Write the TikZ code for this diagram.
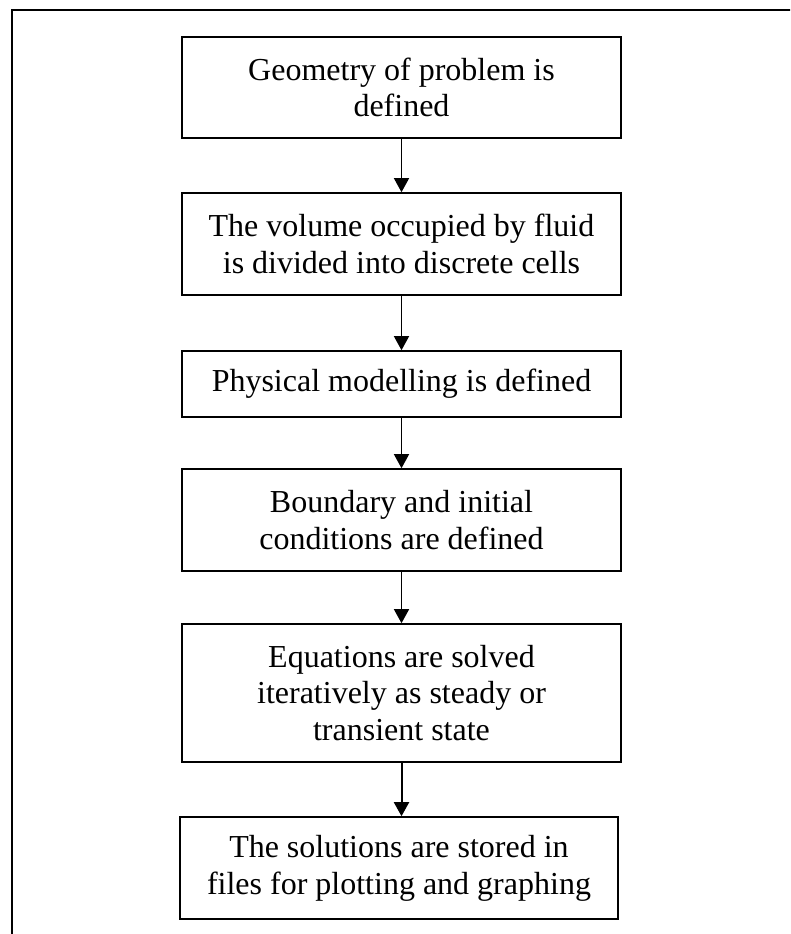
\documentclass[tikz,border=0pt]{standalone}
\usepackage{fontspec}
\setmainfont{Liberation Serif}
\usetikzlibrary{arrows.meta}

\tikzset{
  stepbox/.style={draw=black, line width=1.6pt, align=center, inner sep=0pt,
    font=\fontsize{32}{36.7}\selectfont, minimum width=439pt},
  flow/.style={line width=1.4pt, -{Triangle[length=14pt,width=15pt]}},
  frame/.style={draw=black, line width=1.8pt}
}

\begin{document}
\begin{tikzpicture}[x=1pt,y=1pt]
  \useasboundingbox (0,0) rectangle (790,-934);
  \clip (0,0) rectangle (790,-934);

  % outer frame (runs past the right and bottom edges)
  \draw[frame] (12,-10) rectangle (800,-950);

  % process steps
  \node[stepbox, minimum height=101pt] (geo) at (401.5,-87.5)
    {Geometry of problem is\\defined};
  \node[stepbox, minimum height=102pt] (mesh) at (401.5,-244)
    {The volume occupied by fluid\\is divided into discrete cells};
  \node[stepbox, minimum height=66pt] (phys) at (401.5,-384)
    {Physical modelling is defined};
  \node[stepbox, minimum height=102pt] (bc) at (401.5,-520)
    {Boundary and initial\\conditions are defined};
  \node[stepbox, minimum height=138pt] (solve) at (401.5,-693)
    {Equations are solved\\iteratively as steady or\\transient state};
  \node[stepbox, minimum height=102pt, minimum width=438pt] (store) at (399,-868)
    {The solutions are stored in\\files for plotting and graphing};

  % connectors
  \draw[flow] (geo.south) -- (mesh.north);
  \draw[flow] (mesh.south) -- (phys.north);
  \draw[flow] (phys.south) -- (bc.north);
  \draw[flow] (bc.south) -- (solve.north);
  \draw[flow, line width=2pt] (solve.south) -- (solve.south |- store.north);
\end{tikzpicture}
\end{document}
